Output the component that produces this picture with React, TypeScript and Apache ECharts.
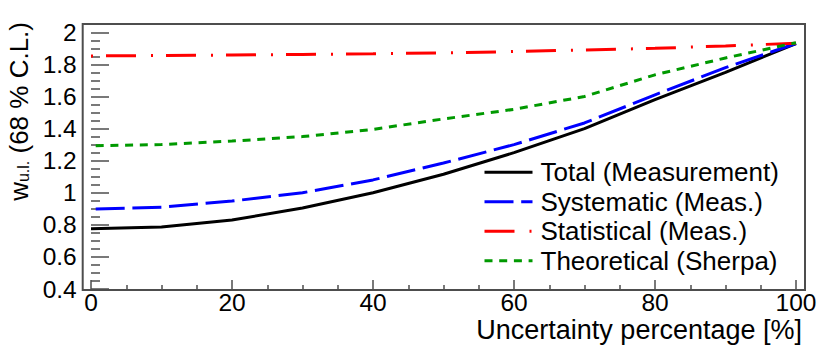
import React, { useEffect, useRef } from "react";
import * as echarts from "echarts";

const xValues = [0, 10, 20, 30, 40, 50, 60, 70, 80, 90, 100];
const totalValues = [0.775, 0.787, 0.83, 0.905, 1.0, 1.115, 1.25, 1.4, 1.58, 1.75, 1.93];
const systematicValues = [0.898, 0.91, 0.948, 1.0, 1.08, 1.185, 1.3, 1.435, 1.61, 1.78, 1.93];
const statisticalValues = [1.853, 1.855, 1.858, 1.862, 1.866, 1.872, 1.88, 1.89, 1.9, 1.915, 1.932];
const theoreticalValues = [1.293, 1.3, 1.322, 1.35, 1.395, 1.46, 1.52, 1.6, 1.735, 1.84, 1.935];
const seriesNames = [
  "Total (Measurement)",
  "Systematic (Meas.)",
  "Statistical (Meas.)",
  "Theoretical (Sherpa)",
];
const xAxisTitle = "Uncertainty percentage [%]";

const FONT = "'Liberation Sans', Arial, Helvetica, sans-serif";
const AXIS_COLOR = "#4d4d4d";

function pairs(ys: number[]) {
  return xValues.map((x, i) => [x, ys[i]]);
}

export default function App() {
  const ref = useRef<HTMLDivElement>(null);
  useEffect(() => {
    if (!ref.current) return;
    const chart = echarts.init(ref.current, null, { renderer: "svg" });
    const styles = [
      { color: "#000000", type: "solid" as any, dashOffset: 0 },
      { color: "#0000ff", type: [29, 7.7], dashOffset: 31.7 },
      { color: "#ff0000", type: [30, 15, 2, 13], dashOffset: 45 },
      { color: "#009900", type: [8, 6.7], dashOffset: 9.7 },
    ];
    const datas = [totalValues, systematicValues, statisticalValues, theoreticalValues];
    chart.setOption({
      animation: false,
      textStyle: { fontFamily: FONT },
      grid: { left: 91, right: 34, top: 32.3, bottom: 64, containLabel: false },
      xAxis: {
        type: "value",
        min: 0,
        max: 100,
        interval: 20,
        offset: 1,
        axisLine: { show: false },
        axisTick: { show: true, inside: true, length: 10, lineStyle: { color: AXIS_COLOR, width: 1.5 } },
        minorTick: { show: true, splitNumber: 4, length: 5, lineStyle: { color: AXIS_COLOR, width: 1.5 } },
        splitLine: { show: false },
        axisLabel: { fontSize: 24.5, lineHeight: 22, color: "#000", margin: 1, fontFamily: FONT },
      },
      yAxis: {
        type: "value",
        min: 0.4,
        max: 2.0,
        interval: 0.2,
        offset: 8.3,
        axisLine: { show: false },
        axisTick: { show: true, inside: true, length: 18, lineStyle: { color: AXIS_COLOR, width: 1.5 } },
        minorTick: { show: true, splitNumber: 4, length: 9, lineStyle: { color: AXIS_COLOR, width: 1.5 } },
        splitLine: { show: false },
        axisLabel: {
          fontSize: 24.5,
          color: "#000",
          margin: 6,
          fontFamily: FONT,
          padding: [5, 0, 0, 0],
        },
      },
      legend: {
        orient: "vertical",
        left: 483,
        top: 159.2,
        padding: 0,
        itemWidth: 48,
        itemHeight: 14,
        itemGap: 3.5,
        selectedMode: false,
        data: seriesNames,
        itemStyle: { opacity: 0 },
        lineStyle: { width: 3, dashOffset: 0 },
        textStyle: {
          fontSize: 26,
          lineHeight: 25,
          color: "#000",
          fontFamily: FONT,
          padding: [0, 0, 0, 3],
        },
      },
      graphic: [
        {
          type: "rect",
          z: 10,
          shape: { x: 82.7, y: 24, width: 722.3, height: 266 },
          style: { fill: "none", stroke: AXIS_COLOR, lineWidth: 2 },
          silent: true,
        },
        {
          type: "text",
          x: 802,
          y: 330,
          silent: true,
          style: {
            text: xAxisTitle,
            font: `27px ${FONT}`,
            fill: "#000",
            align: "right",
            verticalAlign: "middle",
          },
        },
        {
          type: "text",
          x: 18.5,
          y: 22,
          rotation: Math.PI / 2,
          silent: true,
          style: {
            text: "{m|w}{s|u.l.}{m| (68 % C.L.)}",
            align: "right",
            verticalAlign: "middle",
            fill: "#000",
            rich: {
              m: { fontSize: 26, lineHeight: 26, fontFamily: FONT, fill: "#000", verticalAlign: "bottom" },
              s: { fontSize: 16, lineHeight: 16, fontFamily: FONT, fill: "#000", verticalAlign: "bottom" },
            },
          },
        },
      ],
      series: seriesNames.map((name, i) => ({
        name,
        type: "line",
        data: pairs(datas[i]),
        symbol: "none",
        smooth: false,
        color: styles[i].color,
        lineStyle: {
          color: styles[i].color,
          width: 3,
          type: styles[i].type,
          dashOffset: styles[i].dashOffset,
        },
        z: 2 + i,
      })),
    });
    return () => chart.dispose();
  }, []);
  return (
    <div
      ref={ref}
      style={{ position: "fixed", left: 0, top: 0, width: 830, height: 353, background: "#fff" }}
    />
  );
}
